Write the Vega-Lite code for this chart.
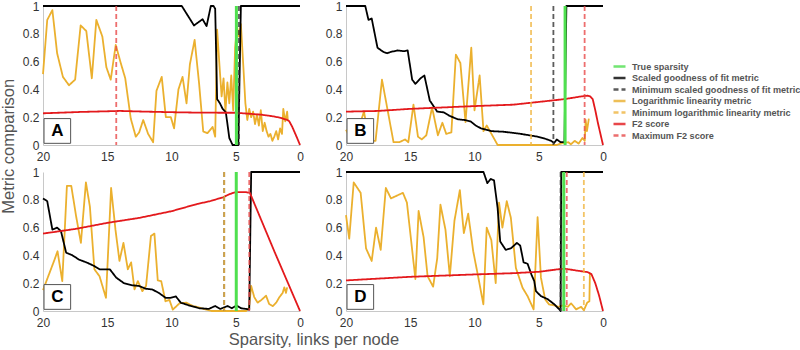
{
  "$schema": "https://vega.github.io/schema/vega-lite/v6.json",
  "background": "white",
  "padding": {"left": 0, "top": 0, "right": 0, "bottom": 0},
  "title": {"text": "Metric comparison", "orient": "left", "anchor": "middle", "fontSize": 16.5, "fontWeight": "normal", "color": "#555555", "offset": 5, "dx": 28},
  "datasets": {
    "panels": [
      {"p": "A", "r": "top", "c": "left"},
      {"p": "B", "r": "top", "c": "right"},
      {"p": "C", "r": "bottom", "c": "left"},
      {"p": "D", "r": "bottom", "c": "right"}
    ],
    "metrics": [
      {"p":"A","s":"L","x":20,"y":0.51},{"p":"A","s":"L","x":19.67,"y":0.9},{"p":"A","s":"L","x":19.27,"y":0.97},{"p":"A","s":"L","x":18.9,"y":0.66},{"p":"A","s":"L","x":18.45,"y":0.49},{"p":"A","s":"L","x":17.98,"y":0.43},{"p":"A","s":"L","x":17.5,"y":0.47},{"p":"A","s":"L","x":17.07,"y":0.86},{"p":"A","s":"L","x":16.63,"y":0.82},{"p":"A","s":"L","x":16.2,"y":0.48},{"p":"A","s":"L","x":15.85,"y":0.9},{"p":"A","s":"L","x":15.38,"y":0.78},{"p":"A","s":"L","x":15.07,"y":0.56},{"p":"A","s":"L","x":14.73,"y":0.47},{"p":"A","s":"L","x":14.34,"y":0.72},{"p":"A","s":"L","x":13.95,"y":0.59},{"p":"A","s":"L","x":13.6,"y":0.48},{"p":"A","s":"L","x":13.17,"y":0.19},{"p":"A","s":"L","x":12.78,"y":0.06},{"p":"A","s":"L","x":12.52,"y":0.09},{"p":"A","s":"L","x":12.2,"y":0.18},{"p":"A","s":"L","x":11.82,"y":0.08},{"p":"A","s":"L","x":11.43,"y":0.02},{"p":"A","s":"L","x":11.17,"y":0.39},{"p":"A","s":"L","x":10.76,"y":0.49},{"p":"A","s":"L","x":10.44,"y":0.2},{"p":"A","s":"L","x":10.05,"y":0.2},{"p":"A","s":"L","x":9.8,"y":0.12},{"p":"A","s":"L","x":9.46,"y":0.4},{"p":"A","s":"L","x":9.14,"y":0.49},{"p":"A","s":"L","x":8.83,"y":0.3},{"p":"A","s":"L","x":8.57,"y":0.58},{"p":"A","s":"L","x":8.2,"y":0.756},{"p":"A","s":"L","x":7.85,"y":0.44},{"p":"A","s":"L","x":7.53,"y":0.097},{"p":"A","s":"L","x":7.2,"y":0.085},{"p":"A","s":"L","x":6.8,"y":0.13},{"p":"A","s":"L","x":6.6,"y":0.06},{"p":"A","s":"L","x":6.45,"y":0.83},{"p":"A","s":"L","x":6.25,"y":0.55},{"p":"A","s":"L","x":6.1,"y":0.35},{"p":"A","s":"L","x":5.95,"y":0.48},{"p":"A","s":"L","x":5.8,"y":0.24},{"p":"A","s":"L","x":5.65,"y":0.45},{"p":"A","s":"L","x":5.5,"y":0.3},{"p":"A","s":"L","x":5.35,"y":0.5},{"p":"A","s":"L","x":5.2,"y":0.25},{"p":"A","s":"L","x":5.05,"y":0.7},{"p":"A","s":"L","x":4.9,"y":0.85},{"p":"A","s":"L","x":4.75,"y":0.78},{"p":"A","s":"L","x":4.6,"y":0.87},{"p":"A","s":"L","x":4.4,"y":0.55},{"p":"A","s":"L","x":4.25,"y":0.3},{"p":"A","s":"L","x":4.1,"y":0.18},{"p":"A","s":"L","x":3.95,"y":0.26},{"p":"A","s":"L","x":3.8,"y":0.2},{"p":"A","s":"L","x":3.65,"y":0.24},{"p":"A","s":"L","x":3.5,"y":0.15},{"p":"A","s":"L","x":3.35,"y":0.22},{"p":"A","s":"L","x":3.2,"y":0.14},{"p":"A","s":"L","x":3.05,"y":0.25},{"p":"A","s":"L","x":2.9,"y":0.1},{"p":"A","s":"L","x":2.75,"y":0.16},{"p":"A","s":"L","x":2.6,"y":0.1},{"p":"A","s":"L","x":2.45,"y":0.06},{"p":"A","s":"L","x":2.3,"y":0.08},{"p":"A","s":"L","x":2.15,"y":0.03},{"p":"A","s":"L","x":2.0,"y":0.06},{"p":"A","s":"L","x":1.85,"y":0.1},{"p":"A","s":"L","x":1.7,"y":0.04},{"p":"A","s":"L","x":1.55,"y":0.12},{"p":"A","s":"L","x":1.4,"y":0.08},{"p":"A","s":"L","x":1.3,"y":0.26},{"p":"A","s":"L","x":1.15,"y":0.17},{"p":"A","s":"L","x":1.0,"y":0.24},{"p":"A","s":"L","x":0.95,"y":0.18},
      {"p":"A","s":"G","x":20,"y":1},{"p":"A","s":"G","x":9.2,"y":1},{"p":"A","s":"G","x":8.25,"y":0.86},{"p":"A","s":"G","x":7.58,"y":0.905},{"p":"A","s":"G","x":7.27,"y":0.855},{"p":"A","s":"G","x":6.94,"y":1.0},{"p":"A","s":"G","x":6.73,"y":1.0},{"p":"A","s":"G","x":6.6,"y":0.98},{"p":"A","s":"G","x":6.45,"y":0.33},{"p":"A","s":"G","x":6.23,"y":0.3},{"p":"A","s":"G","x":6.02,"y":0.26},{"p":"A","s":"G","x":5.77,"y":0.235},{"p":"A","s":"G","x":5.5,"y":0.05},{"p":"A","s":"G","x":5.24,"y":0.0},{"p":"A","s":"G","x":4.8,"y":0.0},{"p":"A","s":"G","x":4.6,"y":1.0},{"p":"A","s":"G","x":0,"y":1},
      {"p":"A","s":"F","x":20,"y":0.228},{"p":"A","s":"F","x":17,"y":0.238},{"p":"A","s":"F","x":14,"y":0.245},{"p":"A","s":"F","x":12,"y":0.24},{"p":"A","s":"F","x":10,"y":0.236},{"p":"A","s":"F","x":8,"y":0.233},{"p":"A","s":"F","x":6,"y":0.232},{"p":"A","s":"F","x":5,"y":0.232},{"p":"A","s":"F","x":4,"y":0.225},{"p":"A","s":"F","x":3,"y":0.218},{"p":"A","s":"F","x":2,"y":0.205},{"p":"A","s":"F","x":1.5,"y":0.195},{"p":"A","s":"F","x":1.0,"y":0.18},{"p":"A","s":"F","x":0.83,"y":0.17},{"p":"A","s":"F","x":0.6,"y":0.13},{"p":"A","s":"F","x":0.44,"y":0.096},{"p":"A","s":"F","x":0.2,"y":0.045},{"p":"A","s":"F","x":0,"y":0},
      {"p":"A","s":"T","x":4.95},{"p":"A","s":"Gm","x":4.75},{"p":"A","s":"Fm","x":14.3},

      {"p":"B","s":"L","x":20,"y":0.11},{"p":"B","s":"L","x":19.6,"y":0.04},{"p":"B","s":"L","x":19.1,"y":0.1},{"p":"B","s":"L","x":18.6,"y":0.24},{"p":"B","s":"L","x":18.2,"y":0.03},{"p":"B","s":"L","x":17.7,"y":0.03},{"p":"B","s":"L","x":17.2,"y":0.47},{"p":"B","s":"L","x":16.7,"y":0.22},{"p":"B","s":"L","x":16.3,"y":0.02},{"p":"B","s":"L","x":15.85,"y":0.02},{"p":"B","s":"L","x":15.4,"y":0.04},{"p":"B","s":"L","x":15.15,"y":0.02},{"p":"B","s":"L","x":14.75,"y":0.29},{"p":"B","s":"L","x":14.4,"y":0.06},{"p":"B","s":"L","x":14.1,"y":0.04},{"p":"B","s":"L","x":13.75,"y":0.07},{"p":"B","s":"L","x":13.3,"y":0.27},{"p":"B","s":"L","x":12.85,"y":0.07},{"p":"B","s":"L","x":12.5,"y":0.16},{"p":"B","s":"L","x":12.2,"y":0.08},{"p":"B","s":"L","x":11.8,"y":0.09},{"p":"B","s":"L","x":11.45,"y":0.65},{"p":"B","s":"L","x":11.1,"y":0.59},{"p":"B","s":"L","x":10.7,"y":0.165},{"p":"B","s":"L","x":10.25,"y":0.7},{"p":"B","s":"L","x":10.0,"y":0.25},{"p":"B","s":"L","x":9.6,"y":0.5},{"p":"B","s":"L","x":9.3,"y":0.1},{"p":"B","s":"L","x":9.05,"y":0.14},{"p":"B","s":"L","x":8.8,"y":0.1},{"p":"B","s":"L","x":8.2,"y":0.0},{"p":"B","s":"L","x":3.6,"y":0.0},{"p":"B","s":"L","x":3.3,"y":0.01},{"p":"B","s":"L","x":2.7,"y":0.02},{"p":"B","s":"L","x":2.5,"y":0.005},{"p":"B","s":"L","x":2.2,"y":0.03},{"p":"B","s":"L","x":1.9,"y":0.01},{"p":"B","s":"L","x":1.6,"y":0.05},{"p":"B","s":"L","x":1.42,"y":0.03},{"p":"B","s":"L","x":1.35,"y":0.18},{"p":"B","s":"L","x":1.25,"y":0.1},{"p":"B","s":"L","x":1.1,"y":0.19},
      {"p":"B","s":"G","x":20,"y":1},{"p":"B","s":"G","x":18.5,"y":1},{"p":"B","s":"G","x":18.25,"y":0.9},{"p":"B","s":"G","x":18.0,"y":0.91},{"p":"B","s":"G","x":17.55,"y":0.7},{"p":"B","s":"G","x":17.1,"y":0.67},{"p":"B","s":"G","x":16.8,"y":0.66},{"p":"B","s":"G","x":16.5,"y":0.67},{"p":"B","s":"G","x":16.0,"y":0.68},{"p":"B","s":"G","x":15.5,"y":0.675},{"p":"B","s":"G","x":15.2,"y":0.68},{"p":"B","s":"G","x":14.85,"y":0.47},{"p":"B","s":"G","x":14.6,"y":0.44},{"p":"B","s":"G","x":14.2,"y":0.48},{"p":"B","s":"G","x":13.9,"y":0.5},{"p":"B","s":"G","x":13.48,"y":0.32},{"p":"B","s":"G","x":12.9,"y":0.24},{"p":"B","s":"G","x":12.4,"y":0.235},{"p":"B","s":"G","x":11.95,"y":0.21},{"p":"B","s":"G","x":11.3,"y":0.185},{"p":"B","s":"G","x":10.8,"y":0.18},{"p":"B","s":"G","x":10.3,"y":0.17},{"p":"B","s":"G","x":9.9,"y":0.14},{"p":"B","s":"G","x":9.5,"y":0.12},{"p":"B","s":"G","x":8.7,"y":0.1},{"p":"B","s":"G","x":7.7,"y":0.095},{"p":"B","s":"G","x":6.4,"y":0.08},{"p":"B","s":"G","x":5.1,"y":0.06},{"p":"B","s":"G","x":4.5,"y":0.045},{"p":"B","s":"G","x":4.04,"y":0.03},{"p":"B","s":"G","x":3.8,"y":0.015},{"p":"B","s":"G","x":3.6,"y":0.04},{"p":"B","s":"G","x":3.3,"y":0.02},{"p":"B","s":"G","x":3.0,"y":0.02},{"p":"B","s":"G","x":2.85,"y":1.0},{"p":"B","s":"G","x":0,"y":1},
      {"p":"B","s":"F","x":20,"y":0.24},{"p":"B","s":"F","x":17.5,"y":0.245},{"p":"B","s":"F","x":15,"y":0.26},{"p":"B","s":"F","x":12.5,"y":0.27},{"p":"B","s":"F","x":10,"y":0.28},{"p":"B","s":"F","x":7,"y":0.29},{"p":"B","s":"F","x":5,"y":0.31},{"p":"B","s":"F","x":4,"y":0.32},{"p":"B","s":"F","x":3,"y":0.33},{"p":"B","s":"F","x":2,"y":0.345},{"p":"B","s":"F","x":1.5,"y":0.352},{"p":"B","s":"F","x":1.2,"y":0.355},{"p":"B","s":"F","x":1.0,"y":0.35},{"p":"B","s":"F","x":0.8,"y":0.33},{"p":"B","s":"F","x":0.6,"y":0.25},{"p":"B","s":"F","x":0.4,"y":0.16},{"p":"B","s":"F","x":0.2,"y":0.08},{"p":"B","s":"F","x":0,"y":0},
      {"p":"B","s":"T","x":2.95},{"p":"B","s":"Gm","x":3.86},{"p":"B","s":"Lm","x":5.6},{"p":"B","s":"Fm","x":1.43},

      {"p":"C","s":"L","x":20,"y":0.15},{"p":"C","s":"L","x":19.1,"y":0.37},{"p":"C","s":"L","x":18.87,"y":0.43},{"p":"C","s":"L","x":18.5,"y":0.215},{"p":"C","s":"L","x":18.14,"y":0.9},{"p":"C","s":"L","x":17.8,"y":0.9},{"p":"C","s":"L","x":17.42,"y":0.68},{"p":"C","s":"L","x":17.05,"y":0.49},{"p":"C","s":"L","x":16.66,"y":0.925},{"p":"C","s":"L","x":16.35,"y":0.75},{"p":"C","s":"L","x":16.0,"y":0.3},{"p":"C","s":"L","x":15.6,"y":0.25},{"p":"C","s":"L","x":15.1,"y":0.095},{"p":"C","s":"L","x":14.7,"y":0.885},{"p":"C","s":"L","x":14.36,"y":0.585},{"p":"C","s":"L","x":14.05,"y":0.36},{"p":"C","s":"L","x":13.74,"y":0.49},{"p":"C","s":"L","x":13.4,"y":0.3},{"p":"C","s":"L","x":13.14,"y":0.35},{"p":"C","s":"L","x":12.88,"y":0.155},{"p":"C","s":"L","x":12.62,"y":0.215},{"p":"C","s":"L","x":12.27,"y":0.143},{"p":"C","s":"L","x":11.98,"y":0.18},{"p":"C","s":"L","x":11.6,"y":0.54},{"p":"C","s":"L","x":11.33,"y":0.557},{"p":"C","s":"L","x":11.07,"y":0.22},{"p":"C","s":"L","x":10.8,"y":0.215},{"p":"C","s":"L","x":10.47,"y":0.07},{"p":"C","s":"L","x":10.16,"y":0.08},{"p":"C","s":"L","x":9.9,"y":0.01},{"p":"C","s":"L","x":9.38,"y":0.055},{"p":"C","s":"L","x":8.86,"y":0.06},{"p":"C","s":"L","x":8.34,"y":0.036},{"p":"C","s":"L","x":7.85,"y":0.025},{"p":"C","s":"L","x":7.3,"y":0.01},{"p":"C","s":"L","x":6.9,"y":0.0},{"p":"C","s":"L","x":4.2,"y":0.0},{"p":"C","s":"L","x":3.97,"y":0.02},{"p":"C","s":"L","x":3.8,"y":0.18},{"p":"C","s":"L","x":3.56,"y":0.1},{"p":"C","s":"L","x":3.3,"y":0.06},{"p":"C","s":"L","x":3.0,"y":0.08},{"p":"C","s":"L","x":2.64,"y":0.11},{"p":"C","s":"L","x":2.4,"y":0.05},{"p":"C","s":"L","x":2.12,"y":0.035},{"p":"C","s":"L","x":1.85,"y":0.06},{"p":"C","s":"L","x":1.6,"y":0.1},{"p":"C","s":"L","x":1.35,"y":0.13},{"p":"C","s":"L","x":1.22,"y":0.17},{"p":"C","s":"L","x":1.09,"y":0.13},{"p":"C","s":"L","x":1.0,"y":0.17},
      {"p":"C","s":"G","x":20,"y":0.81},{"p":"C","s":"G","x":19.67,"y":0.79},{"p":"C","s":"G","x":19.27,"y":0.585},{"p":"C","s":"G","x":18.9,"y":0.6},{"p":"C","s":"G","x":18.6,"y":0.574},{"p":"C","s":"G","x":18.2,"y":0.42},{"p":"C","s":"G","x":17.7,"y":0.4},{"p":"C","s":"G","x":17.2,"y":0.37},{"p":"C","s":"G","x":16.55,"y":0.347},{"p":"C","s":"G","x":16.0,"y":0.323},{"p":"C","s":"G","x":15.6,"y":0.3},{"p":"C","s":"G","x":15.2,"y":0.3},{"p":"C","s":"G","x":14.8,"y":0.3},{"p":"C","s":"G","x":14.3,"y":0.24},{"p":"C","s":"G","x":13.7,"y":0.2},{"p":"C","s":"G","x":13.04,"y":0.185},{"p":"C","s":"G","x":12.52,"y":0.18},{"p":"C","s":"G","x":12.0,"y":0.16},{"p":"C","s":"G","x":11.5,"y":0.155},{"p":"C","s":"G","x":10.98,"y":0.13},{"p":"C","s":"G","x":10.46,"y":0.095},{"p":"C","s":"G","x":10.1,"y":0.095},{"p":"C","s":"G","x":9.66,"y":0.105},{"p":"C","s":"G","x":9.28,"y":0.06},{"p":"C","s":"G","x":8.5,"y":0.036},{"p":"C","s":"G","x":7.85,"y":0.02},{"p":"C","s":"G","x":7.1,"y":0.015},{"p":"C","s":"G","x":6.6,"y":0.036},{"p":"C","s":"G","x":6.2,"y":0.015},{"p":"C","s":"G","x":5.64,"y":0.036},{"p":"C","s":"G","x":5.3,"y":0.02},{"p":"C","s":"G","x":4.93,"y":0.04},{"p":"C","s":"G","x":4.6,"y":0.02},{"p":"C","s":"G","x":4.2,"y":0.015},{"p":"C","s":"G","x":3.95,"y":0.01},{"p":"C","s":"G","x":3.8,"y":1.0},{"p":"C","s":"G","x":0,"y":1},
      {"p":"C","s":"F","x":20,"y":0.557},{"p":"C","s":"F","x":17.5,"y":0.59},{"p":"C","s":"F","x":15,"y":0.634},{"p":"C","s":"F","x":12.5,"y":0.67},{"p":"C","s":"F","x":10,"y":0.718},{"p":"C","s":"F","x":8,"y":0.77},{"p":"C","s":"F","x":7,"y":0.79},{"p":"C","s":"F","x":6,"y":0.818},{"p":"C","s":"F","x":5.5,"y":0.84},{"p":"C","s":"F","x":5.0,"y":0.856},{"p":"C","s":"F","x":4.2,"y":0.855},{"p":"C","s":"F","x":3.9,"y":0.85},{"p":"C","s":"F","x":2,"y":0.43},{"p":"C","s":"F","x":0,"y":0},
      {"p":"C","s":"T","x":4.96},{"p":"C","s":"Gm","x":5.9},{"p":"C","s":"Lm","x":5.9},{"p":"C","s":"Fm","x":3.95},

      {"p":"D","s":"L","x":20,"y":0.69},{"p":"D","s":"L","x":19.75,"y":0.52},{"p":"D","s":"L","x":19.4,"y":0.925},{"p":"D","s":"L","x":18.86,"y":0.85},{"p":"D","s":"L","x":18.44,"y":0.45},{"p":"D","s":"L","x":18.0,"y":0.36},{"p":"D","s":"L","x":17.66,"y":0.6},{"p":"D","s":"L","x":17.3,"y":0.44},{"p":"D","s":"L","x":16.9,"y":0.885},{"p":"D","s":"L","x":16.5,"y":0.81},{"p":"D","s":"L","x":16.04,"y":0.83},{"p":"D","s":"L","x":15.57,"y":0.85},{"p":"D","s":"L","x":15.26,"y":0.78},{"p":"D","s":"L","x":14.6,"y":0.23},{"p":"D","s":"L","x":14.35,"y":0.72},{"p":"D","s":"L","x":13.96,"y":0.53},{"p":"D","s":"L","x":13.65,"y":0.25},{"p":"D","s":"L","x":13.22,"y":0.175},{"p":"D","s":"L","x":12.9,"y":0.38},{"p":"D","s":"L","x":12.65,"y":0.765},{"p":"D","s":"L","x":12.26,"y":0.585},{"p":"D","s":"L","x":11.92,"y":0.25},{"p":"D","s":"L","x":11.56,"y":0.65},{"p":"D","s":"L","x":11.14,"y":0.87},{"p":"D","s":"L","x":10.83,"y":0.56},{"p":"D","s":"L","x":10.49,"y":0.7},{"p":"D","s":"L","x":10.1,"y":0.43},{"p":"D","s":"L","x":9.7,"y":0.24},{"p":"D","s":"L","x":9.31,"y":0.048},{"p":"D","s":"L","x":9.05,"y":0.6},{"p":"D","s":"L","x":8.69,"y":0.51},{"p":"D","s":"L","x":8.35,"y":0.2},{"p":"D","s":"L","x":8.09,"y":0.78},{"p":"D","s":"L","x":7.83,"y":0.6},{"p":"D","s":"L","x":7.49,"y":0.79},{"p":"D","s":"L","x":7.17,"y":0.67},{"p":"D","s":"L","x":6.78,"y":0.31},{"p":"D","s":"L","x":6.26,"y":0.167},{"p":"D","s":"L","x":5.87,"y":0.107},{"p":"D","s":"L","x":5.4,"y":0.012},{"p":"D","s":"L","x":5.09,"y":0.675},{"p":"D","s":"L","x":4.83,"y":0.24},{"p":"D","s":"L","x":4.5,"y":0.083},{"p":"D","s":"L","x":4.2,"y":0.048},{"p":"D","s":"L","x":3.79,"y":0.04},{"p":"D","s":"L","x":3.45,"y":0.03},{"p":"D","s":"L","x":3.13,"y":0.04},{"p":"D","s":"L","x":2.74,"y":0.03},{"p":"D","s":"L","x":2.48,"y":0.055},{"p":"D","s":"L","x":2.09,"y":0.012},{"p":"D","s":"L","x":1.7,"y":0.03},{"p":"D","s":"L","x":1.49,"y":0.005},{"p":"D","s":"L","x":1.23,"y":0.06},{"p":"D","s":"L","x":1.06,"y":0.07},{"p":"D","s":"L","x":1.02,"y":0.27},
      {"p":"D","s":"G","x":20,"y":1},{"p":"D","s":"G","x":9.3,"y":1},{"p":"D","s":"G","x":9.0,"y":0.92},{"p":"D","s":"G","x":8.74,"y":0.95},{"p":"D","s":"G","x":8.48,"y":0.94},{"p":"D","s":"G","x":8.2,"y":0.74},{"p":"D","s":"G","x":8.0,"y":0.5},{"p":"D","s":"G","x":7.57,"y":0.44},{"p":"D","s":"G","x":7.18,"y":0.45},{"p":"D","s":"G","x":6.7,"y":0.49},{"p":"D","s":"G","x":6.44,"y":0.47},{"p":"D","s":"G","x":6.18,"y":0.35},{"p":"D","s":"G","x":5.87,"y":0.34},{"p":"D","s":"G","x":5.56,"y":0.26},{"p":"D","s":"G","x":5.35,"y":0.215},{"p":"D","s":"G","x":5.22,"y":0.143},{"p":"D","s":"G","x":4.83,"y":0.107},{"p":"D","s":"G","x":4.3,"y":0.085},{"p":"D","s":"G","x":3.79,"y":0.048},{"p":"D","s":"G","x":3.4,"y":0.012},{"p":"D","s":"G","x":3.3,"y":0.0},{"p":"D","s":"G","x":3.25,"y":1.0},{"p":"D","s":"G","x":0,"y":1},
      {"p":"D","s":"F","x":20,"y":0.22},{"p":"D","s":"F","x":15,"y":0.246},{"p":"D","s":"F","x":10,"y":0.263},{"p":"D","s":"F","x":7,"y":0.272},{"p":"D","s":"F","x":5,"y":0.282},{"p":"D","s":"F","x":3.5,"y":0.3},{"p":"D","s":"F","x":3.0,"y":0.305},{"p":"D","s":"F","x":2.0,"y":0.29},{"p":"D","s":"F","x":1.2,"y":0.28},{"p":"D","s":"F","x":0.9,"y":0.265},{"p":"D","s":"F","x":0.6,"y":0.2},{"p":"D","s":"F","x":0.3,"y":0.11},{"p":"D","s":"F","x":0,"y":0},
      {"p":"D","s":"T","x":3.05},{"p":"D","s":"Gm","x":3.3},{"p":"D","s":"Lm","x":1.49},{"p":"D","s":"Fm","x":2.82}
    ]
  },
  "data": {"name": "metrics"},
  "transform": [
    {"lookup": "p", "from": {"data": {"name": "panels"}, "key": "p", "fields": ["r", "c"]}}
  ],
  "facet": {
    "row": {
      "field": "r", "type": "nominal", "sort": ["top", "bottom"],
      "title": null,
      "header": {"labels": false, "labelPadding": 0}
    },
    "column": {
      "field": "c", "type": "nominal", "sort": ["left", "right"],
      "title": "Sparsity, links per node",
      "header": {"labels": false, "labelPadding": 0, "labelOrient": "bottom", "titleOrient": "bottom", "titleFontSize": 16.5, "titleColor": "#555555", "titleFontWeight": "normal", "titlePadding": -6}
    }
  },
  "spacing": {"row": 4, "column": 21},
  "resolve": {"axis": {"x": "independent", "y": "independent"}},
  "spec": {
    "width": 257,
    "height": 139,
    "encoding": {
      "x": {
        "field": "x", "type": "quantitative",
        "scale": {"domain": [0, 20], "reverse": true, "nice": false},
        "axis": {"values": [0, 5, 10, 15, 20], "format": "d", "labelOverlap": false, "labelFlush": false, "labelPadding": 6}
      }
    },
    "layer": [
      {
        "transform": [{"filter": "datum.s == 'L'"}],
        "mark": {"type": "line", "strokeWidth": 1.8, "strokeJoin": "round"},
        "encoding": {
          "y": {"field": "y", "type": "quantitative", "scale": {"domain": [0, 1], "nice": false}, "axis": {"values": [0, 0.2, 0.4, 0.6, 0.8, 1], "format": "~g", "labelOverlap": false, "labelFlush": false, "labelBound": false}},
          "color": {"field": "s", "type": "nominal", "scale": {"domain": ["T", "G", "Gm", "L", "Lm", "F", "Fm"], "range": ["#4fe04f", "#000000", "#333333", "#ebb02e", "#f0b540", "#e3191c", "#e84a4a"]}, "legend": {"title": null, "orient": "none", "legendX": 571, "legendY": 55, "symbolType": "M-1.5,0H1.5", "symbolSize": 64, "symbolStrokeWidth": 2.5, "labelFontSize": 9.1, "labelFontWeight": "bold", "labelColor": "#555555", "labelOffset": 7, "labelLimit": 0, "rowPadding": 0.5, "labelExpr": "datum.label == 'T' ? 'True sparsity' : datum.label == 'G' ? 'Scaled goodness of fit metric' : datum.label == 'Gm' ? 'Minimum scaled goodness of fit metric' : datum.label == 'L' ? 'Logarithmic linearity metric' : datum.label == 'Lm' ? 'Minimum logarithmic linearity metric' : datum.label == 'F' ? 'F2 score' : 'Maximum F2 score'"}},
          "strokeDash": {"field": "s", "type": "nominal", "scale": {"domain": ["T", "G", "Gm", "L", "Lm", "F", "Fm"], "range": [[1, 0], [1, 0], [5, 3], [1, 0], [5, 3], [1, 0], [5, 3]]}, "legend": {"title": null, "orient": "none", "legendX": 571, "legendY": 55, "symbolType": "M-1.5,0H1.5", "symbolSize": 64, "symbolStrokeWidth": 2.5, "labelFontSize": 9.1, "labelFontWeight": "bold", "labelColor": "#555555", "labelOffset": 7, "labelLimit": 0, "rowPadding": 0.5, "labelExpr": "datum.label == 'T' ? 'True sparsity' : datum.label == 'G' ? 'Scaled goodness of fit metric' : datum.label == 'Gm' ? 'Minimum scaled goodness of fit metric' : datum.label == 'L' ? 'Logarithmic linearity metric' : datum.label == 'Lm' ? 'Minimum logarithmic linearity metric' : datum.label == 'F' ? 'F2 score' : 'Maximum F2 score'"}}
        }
      },
      {
        "transform": [{"filter": "datum.s == 'G'"}],
        "mark": {"type": "line", "strokeWidth": 1.8, "strokeJoin": "round"},
        "encoding": {
          "y": {"field": "y", "type": "quantitative", "scale": {"domain": [0, 1], "nice": false}, "axis": {"values": [0, 0.2, 0.4, 0.6, 0.8, 1], "format": "~g", "labelOverlap": false, "labelFlush": false, "labelBound": false}},
          "color": {"field": "s", "type": "nominal"},
          "strokeDash": {"field": "s", "type": "nominal"}
        }
      },
      {
        "transform": [{"filter": "datum.s == 'F'"}],
        "mark": {"type": "line", "strokeWidth": 1.8, "strokeJoin": "round"},
        "encoding": {
          "y": {"field": "y", "type": "quantitative", "scale": {"domain": [0, 1], "nice": false}, "axis": {"values": [0, 0.2, 0.4, 0.6, 0.8, 1], "format": "~g", "labelOverlap": false, "labelFlush": false, "labelBound": false}},
          "color": {"field": "s", "type": "nominal"},
          "strokeDash": {"field": "s", "type": "nominal"}
        }
      },
      {
        "transform": [{"filter": "datum.s == 'T'"}],
        "mark": {"type": "rule", "strokeWidth": 3},
        "encoding": {
          "color": {"field": "s", "type": "nominal"},
          "strokeDash": {"field": "s", "type": "nominal"}
        }
      },
      {
        "transform": [{"filter": "datum.s == 'Gm' || datum.s == 'Lm' || datum.s == 'Fm'"}],
        "mark": {"type": "rule", "strokeWidth": 1.8, "opacity": 0.8},
        "encoding": {
          "color": {"field": "s", "type": "nominal"},
          "strokeDash": {"field": "s", "type": "nominal"}
        }
      },
      {
        "transform": [{"filter": "datum.s == 'T'"}],
        "mark": {"type": "rect", "fill": "white", "stroke": "#555555", "strokeWidth": 1},
        "encoding": {
          "x": {"datum": 19.92},
          "x2": {"datum": 17.85},
          "y": {"datum": 0.012, "type": "quantitative", "scale": {"domain": [0, 1], "nice": false}, "axis": {"values": [0, 0.2, 0.4, 0.6, 0.8, 1], "format": "~g", "labelOverlap": false, "labelFlush": false, "labelBound": false}},
          "y2": {"datum": 0.19}
        }
      },
      {
        "transform": [{"filter": "datum.s == 'T'"}],
        "mark": {"type": "text", "fontSize": 17, "fontWeight": "bold", "color": "#000000", "align": "center", "baseline": "middle"},
        "encoding": {
          "x": {"datum": 18.88},
          "y": {"datum": 0.1, "type": "quantitative", "scale": {"domain": [0, 1], "nice": false}, "axis": {"values": [0, 0.2, 0.4, 0.6, 0.8, 1], "format": "~g", "labelOverlap": false, "labelFlush": false, "labelBound": false}},
          "text": {"field": "p"}
        }
      }
    ]
  },
  "config": {
    "font": "Liberation Sans",
    "view": {"stroke": null},
    "axis": {
      "title": null, "grid": false, "ticks": false,
      "domainColor": "#c8c8c8", "domainWidth": 1,
      "labelFontSize": 12, "labelColor": "#333333", "labelPadding": 4,
      "labelFlush": false, "labelOverlap": false
    },
    "axisY": {"labelOverlap": false},
    "axisQuantitative": {"labelOverlap": false}
  }
}
